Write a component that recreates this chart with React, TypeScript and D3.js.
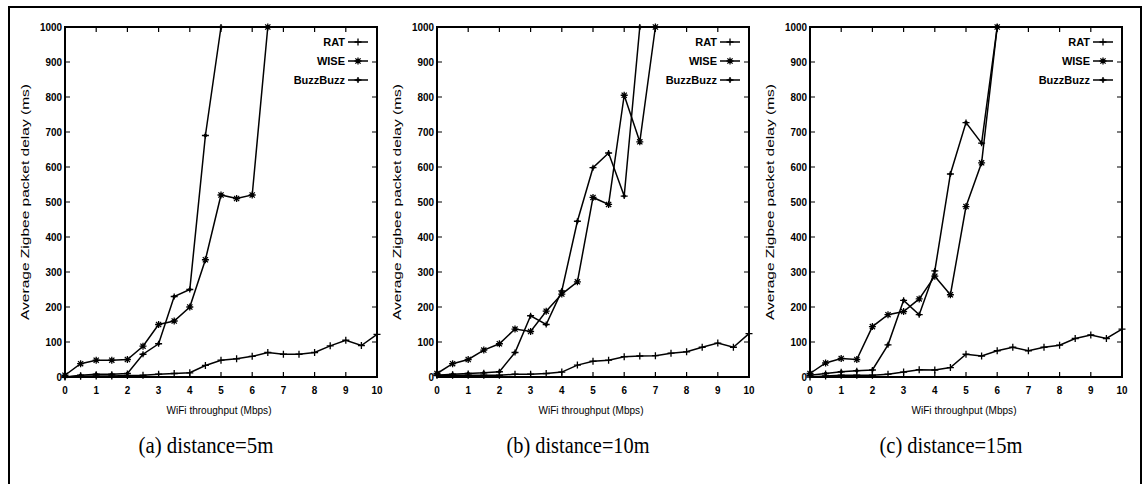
import { useEffect, useRef } from 'react'
import * as d3 from 'd3'

// WiFi throughput (Mbps) sampled every 0.5
const X_VALUES = [0, 0.5, 1, 1.5, 2, 2.5, 3, 3.5, 4, 4.5, 5, 5.5, 6, 6.5, 7, 7.5, 8, 8.5, 9, 9.5, 10]

const CAPTIONS = ['(a) distance=5m', '(b) distance=10m', '(c) distance=15m']
const SERIES_NAMES = ['RAT', 'WISE', 'BuzzBuzz']
const X_TICKS = [0, 1, 2, 3, 4, 5, 6, 7, 8, 9, 10]
const Y_TICKS = [0, 100, 200, 300, 400, 500, 600, 700, 800, 900, 1000]

// delay (ms), series stop where they leave the plot at 1000
const RAT_5M = [0, 2, 3, 3, 4, 5, 8, 10, 12, 33, 48, 52, 59, 70, 65, 65, 70, 89, 105, 90, 122]
const WISE_5M = [5, 38, 48, 48, 50, 88, 150, 160, 200, 335, 520, 510, 520, 1000]
const BUZZ_5M = [0, 5, 8, 8, 10, 65, 95, 230, 250, 690, 1000]

const RAT_10M = [5, 5, 5, 5, 5, 8, 8, 10, 14, 34, 45, 48, 58, 60, 61, 68, 72, 85, 97, 85, 124]
const WISE_10M = [10, 38, 50, 77, 95, 137, 130, 188, 237, 272, 513, 493, 805, 672, 1000]
const BUZZ_10M = [5, 8, 10, 12, 15, 70, 175, 150, 246, 445, 598, 640, 517, 1000]

const RAT_15M = [0, 3, 5, 5, 5, 8, 14, 21, 20, 27, 65, 60, 75, 85, 75, 85, 91, 110, 120, 110, 137]
const WISE_15M = [10, 40, 53, 50, 144, 178, 187, 223, 288, 235, 487, 612, 1000]
const BUZZ_15M = [5, 10, 15, 18, 20, 92, 219, 178, 303, 580, 727, 668, 1000]

const PANEL_DATA = [
  [RAT_5M, WISE_5M, BUZZ_5M],
  [RAT_10M, WISE_10M, BUZZ_10M],
  [RAT_15M, WISE_15M, BUZZ_15M],
]

const W = 1147
const H = 484
const PLOT_LEFT = [65, 437, 810]
const PLOT_W = 312
const PLOT_TOP = 27
const PLOT_BOTTOM = 377
const NARROW = "'Liberation Sans Narrow', 'Liberation Sans', Arial, sans-serif"

const MARKERS = [
  'M-3.5,0H3.5M0,-3.5V3.5',
  'M-3.5,0H3.5M0,-3.5V3.5M-2.6,-2.6L2.6,2.6M-2.6,2.6L2.6,-2.6',
  'M-3.5,0H3.5M0,-3V3',
]

export default function App() {
  const svgRef = useRef<SVGSVGElement | null>(null)

  useEffect(() => {
    if (!svgRef.current) return
    const svg = d3.select(svgRef.current)
    svg.selectAll('*').remove()

    svg.append('rect')
      .attr('width', W).attr('height', H).attr('fill', '#fff')

    // outer frame
    svg.append('path')
      .attr('d', `M9,${H + 2}V7H1141V${H + 2}`)
      .attr('fill', 'none').attr('stroke', '#000').attr('stroke-width', 2)

    PANEL_DATA.forEach((series, pi) => {
      const left = PLOT_LEFT[pi]
      const x = d3.scaleLinear().domain([0, 10]).range([left, left + PLOT_W])
      const y = d3.scaleLinear().domain([0, 1000]).range([PLOT_BOTTOM, PLOT_TOP])
      const g = svg.append('g')

      // ── ticks (gnuplot style, inside, mirrored) ────────────────────────────
      const tickPath = [
        ...X_TICKS.map((t) => `M${x(t)},${PLOT_BOTTOM}v-5M${x(t)},${PLOT_TOP}v5`),
        ...Y_TICKS.map((t) => `M${left},${y(t)}h5M${left + PLOT_W},${y(t)}h-5`),
      ].join('')
      g.append('path').attr('d', tickPath)
        .attr('stroke', '#000').attr('stroke-width', 1.2).attr('fill', 'none')

      g.selectAll('.xt').data(X_TICKS).join('text')
        .attr('x', (d) => x(d)).attr('y', PLOT_BOTTOM + 17)
        .attr('text-anchor', 'middle')
        .attr('font-family', NARROW).attr('font-weight', 'bold').attr('font-size', 11)
        .attr('textLength', (d) => String(d).length * 5.5).attr('lengthAdjust', 'spacingAndGlyphs')
        .text((d) => d)

      g.selectAll('.yt').data(Y_TICKS).join('text')
        .attr('x', left - 3).attr('y', (d) => y(d) + 4)
        .attr('text-anchor', 'end')
        .attr('font-family', NARROW).attr('font-weight', 'bold').attr('font-size', 11)
        .attr('textLength', (d) => String(d).length * 5.5).attr('lengthAdjust', 'spacingAndGlyphs')
        .text((d) => d)

      // axis titles
      g.append('text')
        .attr('transform', `translate(${left - 36},${(PLOT_TOP + PLOT_BOTTOM) / 2}) rotate(-90)`)
        .attr('text-anchor', 'middle')
        .attr('font-family', NARROW).attr('font-size', 11)
        .attr('textLength', 236).attr('lengthAdjust', 'spacingAndGlyphs')
        .text('Average Zigbee packet delay (ms)')

      g.append('text')
        .attr('x', left + PLOT_W / 2 - 2).attr('y', PLOT_BOTTOM + 37)
        .attr('text-anchor', 'middle')
        .attr('font-family', NARROW).attr('font-size', 11)
        .attr('textLength', 105).attr('lengthAdjust', 'spacingAndGlyphs')
        .text('WiFi throughput (Mbps)')

      // ── series ─────────────────────────────────────────────────────────────
      const line = d3.line<number>()
        .x((_, i) => x(X_VALUES[i]))
        .y((d) => y(d))

      series.forEach((vals, si) => {
        g.append('path')
          .attr('d', line(vals))
          .attr('fill', 'none').attr('stroke', '#000').attr('stroke-width', 1.5)
        g.selectAll(`.m${si}`).data(vals).join('path')
          .attr('transform', (d, i) => `translate(${x(X_VALUES[i])},${y(d)})`)
          .attr('d', MARKERS[si])
          .attr('stroke', '#000').attr('stroke-width', 1.3).attr('fill', 'none')
        if (si === 2) {
          g.selectAll('.bz').data(vals).join('circle')
            .attr('cx', (_, i) => x(X_VALUES[i])).attr('cy', (d) => y(d))
            .attr('r', 1.8).attr('fill', '#000')
        }
      })

      // border
      g.append('rect')
        .attr('x', left).attr('y', PLOT_TOP)
        .attr('width', PLOT_W).attr('height', PLOT_BOTTOM - PLOT_TOP)
        .attr('fill', 'none').attr('stroke', '#000').attr('stroke-width', 2)

      // ── legend ─────────────────────────────────────────────────────────────
      const right = left + PLOT_W
      SERIES_NAMES.forEach((name, si) => {
        const ly = 42 + si * 19
        g.append('text')
          .attr('x', right - 32).attr('y', ly + 4)
          .attr('text-anchor', 'end')
          .attr('font-family', NARROW).attr('font-weight', 'bold').attr('font-size', 11)
          .text(name)
        g.append('path')
          .attr('d', `M${right - 29},${ly}H${right - 9}`)
          .attr('stroke', '#000').attr('stroke-width', 1.5)
        g.append('path')
          .attr('transform', `translate(${right - 19},${ly})`)
          .attr('d', MARKERS[si])
          .attr('stroke', '#000').attr('stroke-width', 1.3).attr('fill', 'none')
        if (si === 2) {
          g.append('circle').attr('cx', right - 19).attr('cy', ly).attr('r', 1.8).attr('fill', '#000')
        }
      })

      // caption
      g.append('text')
        .attr('x', left + PLOT_W / 2 - 15).attr('y', 453)
        .attr('text-anchor', 'middle')
        .attr('font-family', "'Liberation Serif', 'Times New Roman', serif").attr('font-size', 24)
        .attr('textLength', pi === 0 ? 135 : 143).attr('lengthAdjust', 'spacingAndGlyphs')
        .text(CAPTIONS[pi])
    })
  }, [])

  return (
    <div style={{ position: 'fixed', left: 0, top: 0, width: W, height: H }}>
      <svg ref={svgRef} width={W} height={H} style={{ display: 'block' }} />
    </div>
  )
}
